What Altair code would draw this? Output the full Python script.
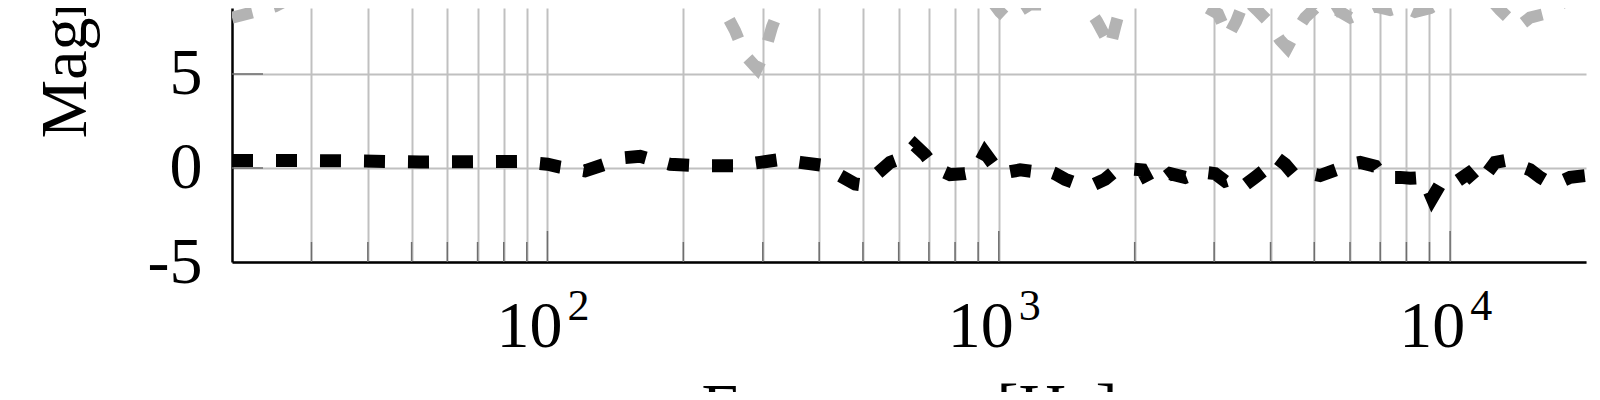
import altair as alt
import pandas as pd

# ---- data ----
black_freq = [20, 28.3, 38.4, 52.2, 67.4, 87.0, 100, 106.6, 121.1, 134.1, 148.5, 160.4, 173.1, 186.9,
              217.8, 260.4, 295.8, 327.6, 362.7, 405.8, 444.8, 480.3, 497.8, 531.9,
              574.2, 619.8, 652.3, 686.5, 722.5, 779.8, 841.9, 886.0, 932.3, 1006,
              1115, 1203, 1266, 1332, 1402, 1476, 1618, 1720, 1810, 1954,
              2078, 2164, 2277, 2396, 2587, 2793, 3015, 3172, 3373, 3513,
              3697, 3930, 4094, 4309, 4487, 4894, 5150, 5588, 5972, 6317,
              6819, 7103, 7747, 8152, 8711, 9121, 9647, 10361, 10959, 11535,
              12578, 13238, 13932, 15039, 15826, 16914, 18445, 20000]
black_db = [0.40, 0.40, 0.37, 0.32, 0.33, 0.35, 0.20, 0.05, -0.15, 0.20, 0.55, 0.62, 0.40, 0.20,
            0.12, 0.12, 0.30, 0.45, 0.30, 0.15, -0.40, -0.85, -0.90, -0.40,
            0.30, 0.60, 1.20, 0.70, 0.00, -0.35, -0.30, -0.20, 0.80, -0.30,
            -0.10, -0.20, -0.10, -0.30, -0.60, -0.80, -0.90, -0.60, -0.15, -0.05,
            -0.10, -0.90, -0.70, -0.30, -0.50, -0.20, -0.30, -0.70, -0.50, -0.90,
            -0.50, 0.00, 0.60, 0.20, -0.30, -0.30, -0.40, -0.10, 0.20, 0.30,
            0.10, -0.50, -0.50, -0.55, -0.50, -1.60, -0.60, -0.70, -0.30, -0.90,
            0.30, 0.40, 0.20, -0.10, -0.50, -0.90, -0.50, -0.40]

gray_freq = [20, 22.4, 24.9, 27.9, 33.0, 47.1, 78.5, 130.8, 196.7, 229.2,
             243.7, 260.4, 274.0, 291.2, 303.4, 314.4, 327.6, 344.7, 468.2, 779.8,
             956.3, 1006, 1048, 1086, 1173, 1279, 1367, 1514, 1577, 1651,
             1720, 1764, 1810, 1857, 1954, 2522, 2681, 2864, 3060, 3221,
             3356, 3513, 3735, 3951, 4200, 4354, 4534, 4771, 5020, 5284,
             5617, 6003, 6414, 6819, 7361, 7826, 8362, 9029, 9500, 10520,
             12260, 12904, 13580, 14147, 15039, 16238, 17529, 18920, 20000]
gray_db = [8.0, 8.3, 8.6, 9.2, 9.6, 9.8, 9.8, 9.8, 9.6, 9.2,
           8.6, 7.3, 6.0, 5.3, 6.2, 7.5, 8.6, 9.4, 9.7, 9.6,
           9.0, 8.3, 7.9, 8.2, 8.7, 8.7, 9.1, 9.0, 8.5, 7.8,
           7.0, 6.4, 7.5, 8.5, 9.2, 9.2, 8.8, 8.6, 8.2, 7.0,
           7.8, 9.0, 8.4, 7.8, 6.8, 6.4, 7.2, 8.0, 8.5, 8.0,
           8.4, 8.0, 8.3, 8.6, 8.4, 8.6, 8.3, 8.5, 8.8, 9.3,
           9.0, 8.4, 7.9, 7.5, 8.0, 8.2, 8.7, 9.2, 9.4]

minor_tick_freq = [30, 40, 50, 60, 70, 80, 90,
                   200, 300, 400, 500, 600, 700, 800, 900,
                   2000, 3000, 4000, 5000, 6000, 7000, 8000, 9000]
major_tick_freq = [100, 1000, 10000]
major_tick_base = ["10", "10", "10"]
major_tick_exp = ["2", "3", "4"]
grid_freq = sorted(minor_tick_freq + major_tick_freq)
y_tick_values = [-5, 0, 5]
y_major_ticks = [0, 5]
x_domain = [20, 20000]
y_domain = [-5, 8.51]

# ---- layout / style ----
W, H = 1354, 254
FONT = "Liberation Serif"
FS = 66
GRID = "#c0c0c0"
TICK = "#6e6e6e"

xs = alt.Scale(type="log", domain=x_domain, nice=False)
ys = alt.Scale(domain=y_domain, nice=False, zero=False)

black_df = pd.DataFrame({"freq": black_freq, "db": black_db})
gray_df = pd.DataFrame({"freq": gray_freq, "db": gray_db})
minor_df = pd.DataFrame({"freq": minor_tick_freq})
major_df = pd.DataFrame({"freq": major_tick_freq, "base": major_tick_base, "exp": major_tick_exp})
ytick_df = pd.DataFrame({"db": y_major_ticks})

x_axis = alt.Axis(values=grid_freq, grid=True, gridColor=GRID, gridWidth=2,
                  labels=False, ticks=False, tickSize=0, domain=True, domainColor="black",
                  domainWidth=2.5, title="Frequency [Hz]", titleFont=FONT, titleFontSize=FS,
                  titleFontWeight="normal", titleColor="black", titleX=W / 2, titleY=166,
                  titleAlign="center", titleBaseline="alphabetic", titleLimit=2000)
y_axis = alt.Axis(values=y_tick_values, grid=True, gridColor=GRID, gridWidth=2,
                  ticks=False, tickSize=0, domain=True, domainColor="black", domainWidth=2.5,
                  labelExpr="'' + datum.value", labelFont=FONT, labelFontSize=FS,
                  labelColor="black", labelPadding=30,
                  title="Magnitude [dB]", titleFont=FONT, titleFontSize=FS,
                  titleFontWeight="normal", titleColor="black", titleAngle=270,
                  titleAlign="left", titleBaseline="alphabetic", titleX=-147, titleY=130,
                  titleLimit=2000)

X = alt.X("freq:Q", scale=xs, axis=x_axis)
Y = alt.Y("db:Q", scale=ys, axis=y_axis)

gray_line = alt.Chart(gray_df).mark_line(
    color="#b3b3b3", strokeWidth=12, strokeDash=[21, 22], clip=True
).encode(x=X, y=Y)

black_line = alt.Chart(black_df).mark_line(
    color="black", strokeWidth=13, strokeDash=[21, 23], clip=True
).encode(x=X, y=Y)

minor_ticks = alt.Chart(minor_df).mark_rule(color=TICK, strokeWidth=1.5).encode(
    x=X, y=alt.value(H), y2=alt.value(H - 20),
)
major_ticks = alt.Chart(major_df).mark_rule(color=TICK, strokeWidth=1.5).encode(
    x=X, y=alt.value(H), y2=alt.value(H - 31),
)
y_ticks = alt.Chart(ytick_df).mark_rule(color=TICK, strokeWidth=1.5).encode(
    y=Y, x=alt.value(0), x2=alt.value(31),
)

base_txt = alt.Chart(major_df).mark_text(
    font=FONT, fontSize=FS, baseline="alphabetic", align="center", dx=-18, color="black"
).encode(x=X, y=alt.value(H + 85), text="base:N")
exp_txt = alt.Chart(major_df).mark_text(
    font=FONT, fontSize=44, baseline="alphabetic", align="center", dx=31, color="black"
).encode(x=X, y=alt.value(H + 58), text="exp:N")

chart = alt.layer(
    gray_line, black_line, minor_ticks, major_ticks, y_ticks, base_txt, exp_txt
).properties(
    width=W, height=H,
    autosize=alt.AutoSizeParams(type="none"),
    padding={"left": 224, "top": 0, "right": 6, "bottom": 130},
).configure_view(stroke=None)

chart.save("out.html", embed_options={"renderer": "svg", "actions": False})
